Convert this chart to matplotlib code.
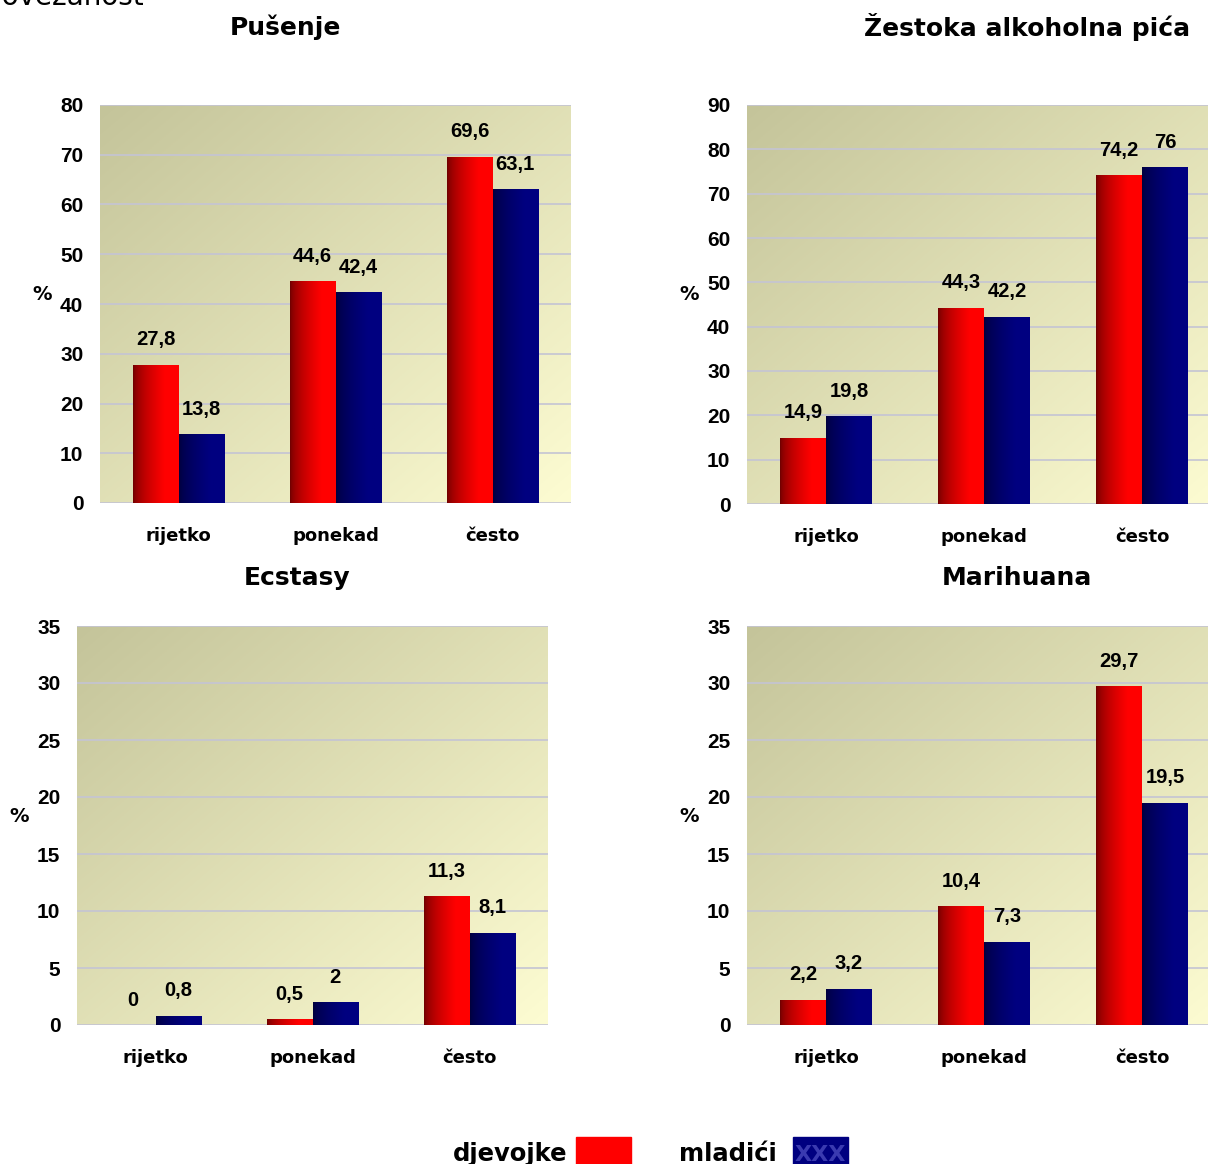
import numpy as np
import matplotlib
matplotlib.use("Agg")
import matplotlib.pyplot as plt
from matplotlib.patches import Rectangle
from matplotlib.font_manager import FontProperties

W, H = 1208, 1164

categories = ["rijetko", "ponekad", "često"]

titles = ["Pušenje", "Žestoka alkoholna pića", "Ecstasy", "Marihuana"]
djevojke = [
    [27.8, 44.6, 69.6],
    [14.9, 44.3, 74.2],
    [0, 0.5, 11.3],
    [2.2, 10.4, 29.7],
]
mladici = [
    [13.8, 42.4, 63.1],
    [19.8, 42.2, 76],
    [0.8, 2, 8.1],
    [3.2, 7.3, 19.5],
]
y_max = [80, 90, 35, 35]
y_step = [10, 10, 5, 5]

# pixel boxes (left, top, right, bottom) and title centres
boxes = [(100, 105, 571, 503), (747, 105, 1221, 504),
         (77, 626, 548, 1025), (747, 626, 1221, 1025)]
title_pos = [(285, 27), (1027, 27), (297, 578), (1017, 578)]

bg_tl = np.array([196, 196, 154]) / 255
bg_br = np.array([253, 252, 210]) / 255
red_l = np.array([110, 0, 0]) / 255
red_r = np.array([255, 0, 0]) / 255
blue_l = np.array([0, 0, 60]) / 255
blue_r = np.array([0, 0, 128]) / 255

num_font = dict(family="Liberation Sans", fontweight="bold", fontsize=14.5)
lab_font = dict(family="DejaVu Sans", fontweight="bold")


def hgrad(c1, c2, n=64):
    t = np.linspace(0, 1, n) ** 0.6
    t = np.clip(t * 1.25, 0, 1)
    return (c1[None, :] * (1 - t[:, None]) + c2[None, :] * t[:, None])[None, :, :]


def background(n=200):
    xx, yy = np.meshgrid(np.linspace(0, 1, n), np.linspace(0, 1, n))
    t = (xx + yy) / 2
    return bg_tl[None, None, :] * (1 - t[..., None]) + bg_br[None, None, :] * t[..., None]


fig = plt.figure(figsize=(W / 100, H / 100), dpi=100)

fig.text(-14 / W, 1 - 5 / H, "Povezanost", fontsize=20, family="DejaVu Sans",
         va="baseline", ha="left")

bw = 0.29
for i in range(4):
    l, t, r, b = boxes[i]
    ax = fig.add_axes([l / W, 1 - b / H, (r - l) / W, (b - t) / H])
    ax.set_xlim(-0.5, 2.5)
    ax.set_ylim(0, y_max[i])
    ax.imshow(background(), extent=[0, 1, 0, 1], transform=ax.transAxes,
              aspect="auto", zorder=0)
    for s in ax.spines.values():
        s.set_visible(False)
    ax.set_yticks(np.arange(0, y_max[i] + 1, y_step[i]))
    ax.grid(axis="y", color="#c4c4d4", linewidth=1.2, zorder=1)
    ax.tick_params(axis="y", length=0, pad=12)
    ax.tick_params(axis="x", length=0, pad=17)
    for lbl in ax.get_yticklabels():
        lbl.set_fontproperties(FontProperties(
            family="Liberation Sans", weight="bold", size=15))
    ax.set_xticks(range(3))
    ax.set_xticklabels(categories, fontsize=13, **lab_font)
    ax.set_ylabel("%", rotation=0, fontsize=14, **lab_font)
    ax.yaxis.set_label_coords(-0.122, 0.5)

    x = np.arange(3)
    for vals, off, cl, cr in [(djevojke[i], -bw, red_l, red_r),
                              (mladici[i], 0, blue_l, blue_r)]:
        bars = ax.bar(x + off, vals, width=bw, align="edge", color=cr,
                      zorder=2, linewidth=0)
        for bar, v in zip(bars, vals):
            x0 = bar.get_x()
            if v > 0:
                im = ax.imshow(hgrad(cl, cr), extent=[x0, x0 + bw, 0, v],
                               aspect="auto", zorder=3)
                im.set_clip_path(bar)
            ax.annotate(f"{v:g}".replace(".", ","), (x0 + bw / 2, v),
                        xytext=(0, 18), textcoords="offset points",
                        ha="center", va="center", zorder=4, **num_font)
    ax.set_xlim(-0.5, 2.5)
    ax.set_ylim(0, y_max[i])

    tx, ty = title_pos[i]
    fig.text(tx / W, 1 - ty / H, titles[i], ha="center", va="center",
             fontsize=18, **lab_font)

# legend
fig.text(567 / W, 1 - 1154 / H, "djevojke", ha="right", va="center",
         fontsize=17.5, **lab_font)
fig.patches.append(Rectangle((576 / W, 0), 55 / W, (1164 - 1137) / H,
                             transform=fig.transFigure, color="#ff0000"))
fig.text(777 / W, 1 - 1154 / H, "mladići", ha="right", va="center",
         fontsize=17.5, **lab_font)
fig.patches.append(Rectangle((793 / W, 0), 55 / W, (1164 - 1137) / H,
                             transform=fig.transFigure, color="#000080"))
fig.text(820 / W, 1 - 1155 / H, "XXX", ha="center", va="center",
         fontsize=16, color="#3a3ab0", **lab_font)

fig.savefig("out.png", dpi=100)
